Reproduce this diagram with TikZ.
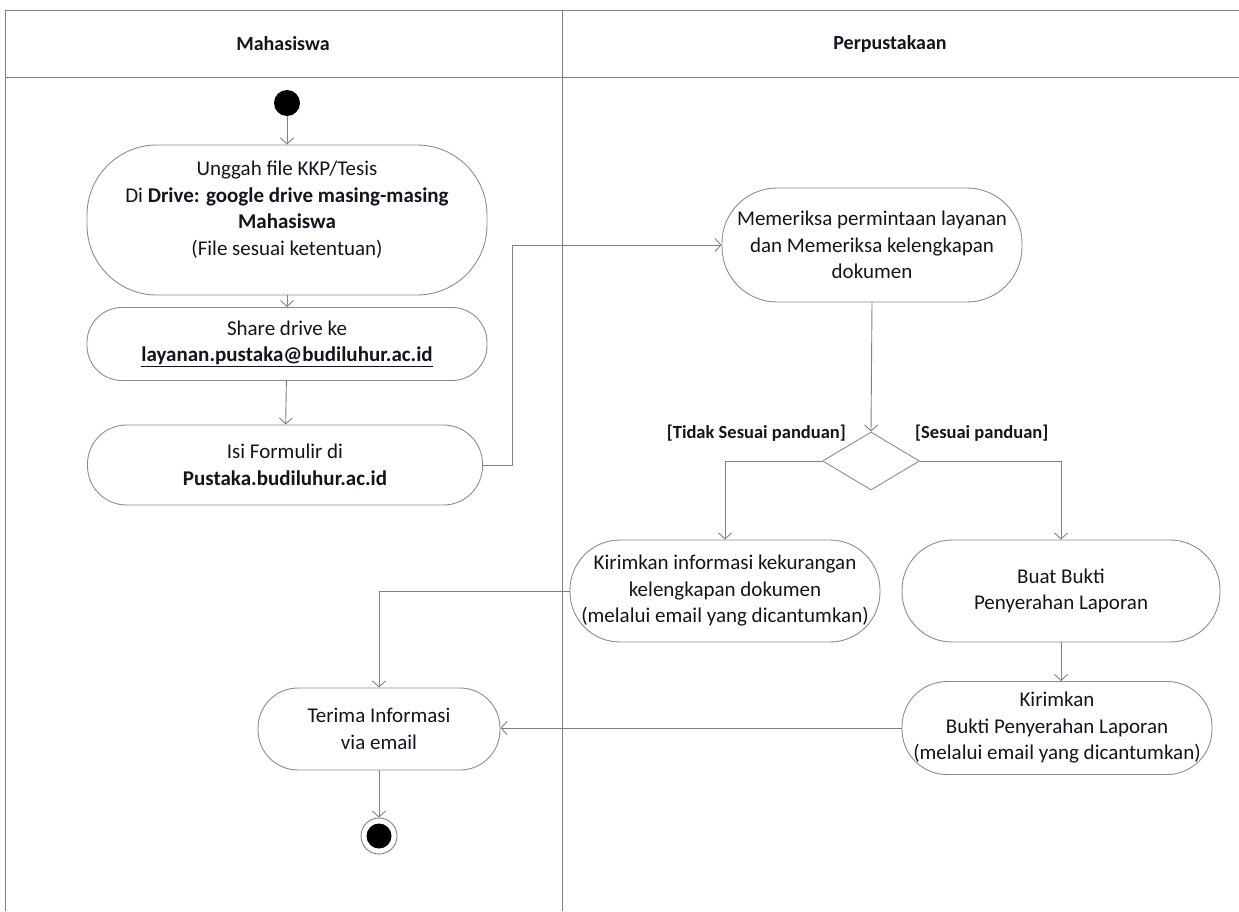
\documentclass[tikz,border=0pt]{standalone}
\usepackage{fontspec}
\setmainfont{Carlito}
\usetikzlibrary{arrows.meta,shapes.geometric,calc}
\definecolor{lc}{RGB}{128,128,128}
\definecolor{bc}{RGB}{140,140,140}
\definecolor{tc}{RGB}{20,20,30}
\tikzset{
  act/.style={draw=bc, line width=0.9pt, rectangle, align=center, inner sep=0pt, text=tc,
    font=\fontsize{21}{26.5}\selectfont},
  arr/.style={draw=lc, line width=0.9pt, -{Straight Barb[length=6pt,width=13pt]}},
  lane/.style={draw=lc, line width=1pt},
  hdr/.style={font=\fontsize{20}{24}\selectfont\bfseries, text=tc},
  guard/.style={font=\fontsize{18.5}{22}\selectfont\bfseries, text=tc, inner sep=0pt}
}
\begin{document}
\begin{tikzpicture}[x=1pt,y=-1pt]
\useasboundingbox (0,0) rectangle (1239,911);
% swimlane frame
\draw[lane] (5,10) -- (1239,10);
\draw[lane] (5,77) -- (1239,77);
\draw[lane] (5,10) -- (5,911);
\draw[lane] (562,10) -- (562,911);
\node[hdr] (h1) at (283,44) {Mahasiswa};
\node[hdr] (h2) at (890,44) {Perpustakaan};
% nodes
\node[circle, fill=black, minimum size=26, inner sep=0pt] (start) at (287,103) {};
\node[act, minimum width=400, minimum height=150, rounded corners=70, text depth=24pt] (unggah) at (287,220)
  {Unggah file KKP/Tesis\\Di \textbf{Drive: google drive masing-masing}\\\textbf{Mahasiswa}\\(File sesuai ketentuan)};
\node[act, minimum width=400, minimum height=73, rounded corners=35] (share) at (287,344)
  {Share drive ke\\\textbf{\underline{layanan.pustaka@budiluhur.ac.id}}};
\node[act, minimum width=395, minimum height=80, rounded corners=39] (isi) at (285,465)
  {Isi Formulir di\\\textbf{Pustaka.budiluhur.ac.id}};
\node[act, minimum width=300, minimum height=114, rounded corners=55] (mem) at (872,245)
  {Memeriksa permintaan layanan\\dan Memeriksa kelengkapan\\dokumen};
\node[diamond, draw=bc, line width=0.9pt, minimum width=97, minimum height=58, inner sep=0pt, aspect=1.67] (dec) at (871,461) {};
\node[act, minimum width=310, minimum height=102, rounded corners=50] (kinfo) at (725,591)
  {Kirimkan informasi kekurangan\\kelengkapan dokumen\\(melalui email yang dicantumkan)};
\node[act, minimum width=318, minimum height=102, rounded corners=50] (buat) at (1061,591)
  {Buat Bukti\\Penyerahan Laporan};
\node[act, minimum width=310, minimum height=93, rounded corners=45] (kbukti) at (1057,728)
  {Kirimkan\\Bukti Penyerahan Laporan\\(melalui email yang dicantumkan)};
\node[act, minimum width=242, minimum height=82, rounded corners=40] (terima) at (379,729)
  {Terima Informasi\\via email};
\node[circle, draw=lc, line width=0.9pt, minimum size=36, inner sep=0pt,
  path picture={\fill[black] (path picture bounding box.center) circle (12.5pt);}] (end) at (379,836) {};
% guards
\node[guard, anchor=east] (g1) at (846,433) {[Tidak Sesuai panduan]};
\node[guard, anchor=west] (g2) at (915,433) {[Sesuai panduan]};
% connectors
\coordinate (c1) at (512,465);
\draw[arr] (start) -- (unggah);
\draw[arr] (unggah) -- (share);
\draw[arr] (share) -- (isi);
\draw[arr] (isi.east) -- (c1) |- (mem.west);
\draw[arr] (mem.south) -- (dec.north);
\draw[arr] (dec.west) -| (kinfo.north);
\draw[arr] (dec.east) -| (buat.north);
\draw[arr] (buat.south) -- (buat.south |- kbukti.north);
\draw[arr] (kinfo.west) -| (terima.north);
\draw[arr] (kbukti.west) -- (kbukti.west -| terima.east);
\draw[arr] (terima.south) -- (end.north);
\end{tikzpicture}
\end{document}
